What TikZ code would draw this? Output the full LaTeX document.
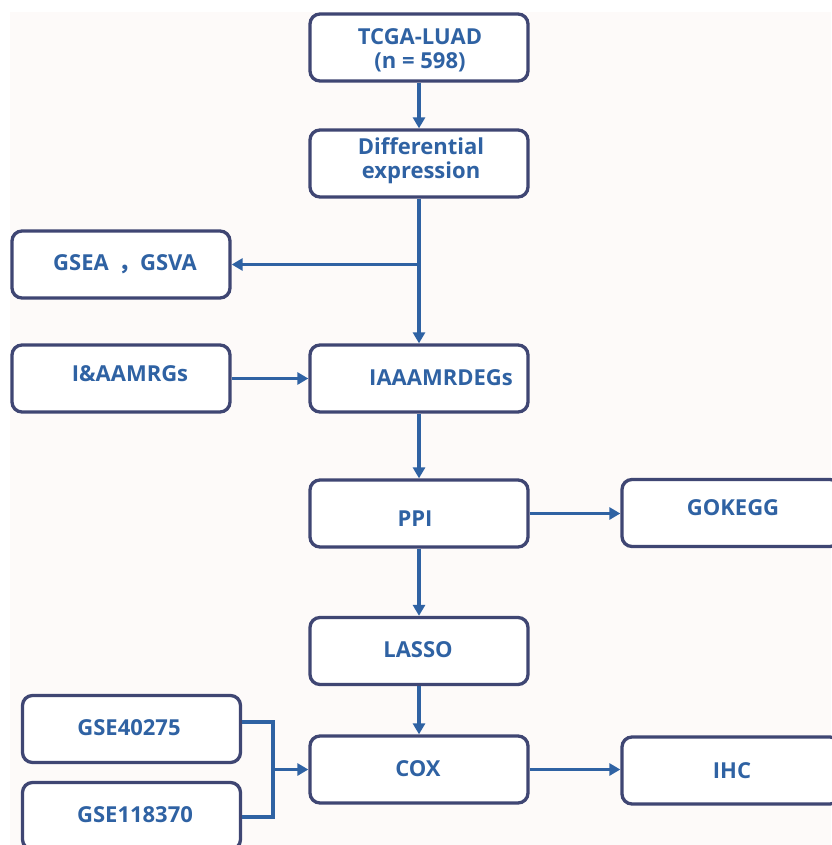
\documentclass[tikz,border=0pt]{standalone}
\usepackage{fontspec}
\setmainfont{Open Sans}
\newfontfamily\cjk{Noto Sans CJK SC}
\usetikzlibrary{arrows.meta}
\definecolor{boxc}{HTML}{3F4673}
\definecolor{arrc}{HTML}{2F62A3}
\definecolor{txtc}{HTML}{2F62A3}
\definecolor{bgc}{HTML}{FDFAF9}
\tikzset{
  box/.style={draw=boxc, line width=3.3pt, rounded corners=10pt, fill=white, minimum width=218pt, minimum height=67pt, inner sep=0pt},
  lbl/.style={text=txtc, font=\bfseries\fontsize{22pt}{24pt}\selectfont, align=center, inner sep=0pt},
  arr/.style={draw=arrc, line width=3.3pt, -{Triangle[length=11pt,width=12pt]}},
  conn/.style={draw=arrc, line width=3.3pt}
}
\begin{document}
\begin{tikzpicture}[x=1pt,y=-1pt]
\useasboundingbox (0,0) rectangle (831,845);
\fill[bgc] (10,12) rectangle (831,845);
% boxes
\node[box] (tcga) at (419,47.5) {};
\node[box] (diff) at (419,163.5) {};
\node[box] (gsea) at (121,264.5) {};
\node[box] (mrg) at (121,378.5) {};
\node[box] (deg) at (419,378.5) {};
\node[box] (ppi) at (419,513.5) {};
\node[box] (gokegg) at (731,513) {};
\node[box] (lasso) at (419,651) {};
\node[box] (cox) at (419,769.5) {};
\node[box] (ihc) at (731,770.5) {};
\node[box] (gse1) at (131.5,729) {};
\node[box] (gse2) at (131.5,816) {};
% texts
\node[lbl] (ttcga) at (420,50) {TCGA-LUAD\\(n = 598)};
\node[lbl] (tdiff) at (421,161) {Differential\\expression};
\node[lbl] (tgsea) at (125,264) {GSEA \,{\cjk ，}GSVA};
\node[lbl] (tmrg) at (130,374) {I\&AAMRGs};
\node[lbl] (tdeg) at (441,378) {IAAAMRDEGs};
\node[lbl] (tppi) at (415,519) {PPI};
\node[lbl] (tgok) at (733,508) {GOKEGG};
\node[lbl] (tlasso) at (418,650) {LASSO};
\node[lbl] (tcox) at (418,769) {COX};
\node[lbl] (tihc) at (732,771) {IHC};
\node[lbl] (tgse1) at (129,728) {GSE40275};
\node[lbl] (tgse2) at (135,815) {GSE118370};
% connectors
\coordinate (br) at (419,264.5);
\coordinate (j1) at (273,722);
\coordinate (j2) at (273,817);
\coordinate (jm) at (273,769.5);
\draw[arr] (tcga.south) -- (diff.north);
\draw[arr] (diff.south) -- (deg.north);
\draw[arr] (br) -- (gsea.east);
\draw[arr] (mrg.east) -- (deg.west);
\draw[arr] (deg.south) -- (ppi.north);
\draw[arr] (ppi.east) -- (gokegg.west |- ppi.east);
\draw[arr] (ppi.south) -- (lasso.north);
\draw[arr] (lasso.south) -- (cox.north);
\draw[conn] (gse1.east |- j1) -- (j1) -- (j2) -- (gse2.east |- j2);
\draw[arr] (jm) -- (cox.west);
\draw[arr] (cox.east) -- (ihc.west |- cox.east);
\end{tikzpicture}
\end{document}
